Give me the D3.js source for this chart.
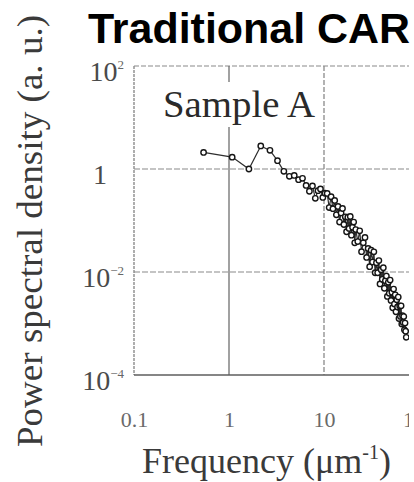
<!DOCTYPE html>
<html>
<head>
<meta charset="utf-8">
<script src="https://cdn.jsdelivr.net/npm/d3@7"></script>
<style>
  html, body { margin: 0; padding: 0; background: #fff; overflow: hidden; }
  svg { display: block; }
</style>
</head>
<body>
<svg id="chart" width="414" height="482"></svg>
<script>
// Power spectral density of the surface profile, Sample A
const freq = [
  0.54, 1.08, 1.62, 2.16, 2.70, 3.24, 3.78, 4.32, 4.86, 5.40,
  5.94, 6.48, 7.02, 7.56, 8.10, 8.64, 9.18, 9.72, 10.26, 10.80,
  11.34, 11.88, 12.42, 12.96, 13.50, 14.04, 14.58, 15.12, 15.66, 16.20,
  16.74, 17.28, 17.82, 18.36, 18.90, 19.44, 19.98, 20.52, 21.06, 21.60,
  22.68, 23.76, 24.84, 25.92, 27.00, 28.08, 29.16, 30.24, 31.32, 32.40,
  33.48, 34.56, 35.64, 36.72, 37.80, 38.88, 39.96, 41.04, 42.12, 43.20,
  44.28, 45.36, 46.44, 47.52, 48.60, 49.68, 50.76, 51.84, 52.92, 54.00,
  55.08, 56.16, 57.24, 58.32, 59.40, 60.48, 61.56, 62.64, 63.72, 64.80,
  65.88, 66.96, 68.04, 69.12, 70.20, 71.28, 72.36, 73.44
];
const psd = [
  2.1, 1.7, 1.0, 2.8, 2.3, 1.45, 0.9, 0.72, 0.75, 0.62,
  0.66, 0.48, 0.37, 0.47, 0.27, 0.38, 0.41, 0.28, 0.34, 0.335,
  0.178, 0.29, 0.17, 0.245, 0.129, 0.188, 0.093, 0.14, 0.171, 0.0836,
  0.118, 0.0605, 0.116, 0.0703, 0.12, 0.0518, 0.074, 0.093, 0.0369, 0.0667,
  0.0389, 0.063, 0.0248, 0.037, 0.0468, 0.0192, 0.0286, 0.0127, 0.0265, 0.0156,
  0.0247, 0.00966, 0.0151, 0.00964, 0.0167, 0.00588, 0.0111, 0.0072, 0.0121, 0.00484,
  0.00676, 0.00834, 0.00335, 0.0063, 0.00385, 0.00697, 0.0028, 0.00405, 0.00202, 0.00466,
  0.00238, 0.00361, 0.00169, 0.00288, 0.00209, 0.00326, 0.00125, 0.00219, 0.00137, 0.0022,
  0.00098, 0.00142, 0.00105, 0.00136, 0.000753, 0.00102, 0.00071, 0.00054
];

const xTicks = [0.1, 1, 10, 100];
const xTickLabels = ["0.1", "1", "10", "100"];
const yTicks = [1e2, 1, 1e-2, 1e-4];
const yTickBase = ["10", "1", "10", "10"];
const yTickExp = ["2", "", "\u22122", "\u22124"];

const titleText = "Traditional CAR";
const sampleText = "Sample A";
const xTitle = "Frequency (\u03bcm";
const xTitleExp = "-1";
const yTitle = "Power spectral density (a. u.)";

const serif = "'Liberation Serif', 'Times New Roman', serif";
const sans = "'Liberation Sans', Arial, sans-serif";

const svg = d3.select("#chart");

const x = d3.scaleLog().domain([0.1, 100]).range([134, 419]);
const y = d3.scaleLog().domain([1e-4, 1e2]).range([375, 66]);

const [yBottom, yTop] = y.range();
const xLeft = x.range()[0];

svg.append("defs").append("clipPath").attr("id", "plotclip")
  .append("rect").attr("x", 0).attr("y", 0).attr("width", 409).attr("height", 482);

const plot = svg.append("g").attr("clip-path", "url(#plotclip)");

// horizontal reference lines at the decades
plot.selectAll("line.hgrid")
  .data(yTicks.filter(t => t !== 1e-4))
  .join("line")
  .attr("class", "hgrid")
  .attr("x1", xLeft).attr("x2", 419)
  .attr("y1", d => y(d)).attr("y2", d => y(d))
  .attr("stroke", "#8a8a8a")
  .attr("stroke-width", 1.2)
  .attr("stroke-dasharray", d => d === 1e2 ? "5,2" : "6,2");

// vertical reference lines
plot.selectAll("line.vgrid")
  .data(xTicks.filter(t => t === 1 || t === 10))
  .join("line")
  .attr("class", "vgrid")
  .attr("x1", d => x(d)).attr("x2", d => x(d))
  .attr("y1", yTop).attr("y2", yBottom)
  .attr("stroke", d => d === 1 ? "#6f6f6f" : "#8a8a8a")
  .attr("stroke-width", 1.3)
  .attr("stroke-dasharray", d => d === 1 ? null : "5,2");

// frame: left and bottom edges
plot.append("line")
  .attr("x1", xLeft).attr("x2", xLeft).attr("y1", yTop).attr("y2", yBottom)
  .attr("stroke", "#8c8c8c").attr("stroke-width", 1.4).attr("stroke-dasharray", "3,1");
plot.append("line")
  .attr("x1", xLeft).attr("x2", 419).attr("y1", yBottom).attr("y2", yBottom)
  .attr("stroke", "#5e5e5e").attr("stroke-width", 1.4);

// sample label with a white backing that interrupts the grid
const sampleG = svg.append("g");
sampleG.append("rect")
  .attr("x", 158).attr("y", 82).attr("width", 160).attr("height", 45)
  .attr("fill", "#fff");
sampleG.append("text")
  .attr("x", 163).attr("y", 117)
  .attr("font-family", serif).attr("font-size", 38)
  .attr("fill", "#2a2a2a")
  .attr("textLength", 152).attr("lengthAdjust", "spacingAndGlyphs")
  .text(sampleText);

// spectrum
const pts = freq.map((f, i) => ({ f, v: psd[i] }));
const line = d3.line().x(d => x(d.f)).y(d => y(d.v));

plot.append("path")
  .datum(pts)
  .attr("d", line)
  .attr("fill", "none")
  .attr("stroke", "#2e2e2e")
  .attr("stroke-width", 1.2);

plot.selectAll("circle.pt")
  .data(pts)
  .join("circle")
  .attr("class", "pt")
  .attr("cx", d => x(d.f))
  .attr("cy", d => y(d.v))
  .attr("r", 2.7)
  .attr("fill", "#fff")
  .attr("stroke", "#151515")
  .attr("stroke-width", 1.4);

// x axis labels
const xAxisG = svg.append("g")
  .attr("transform", `translate(0,${yBottom})`)
  .attr("clip-path", "url(#plotclip)")
  .call(d3.axisBottom(x).tickValues(xTicks).tickSize(0)
    .tickFormat((d, i) => xTickLabels[i]));
xAxisG.select(".domain").remove();
xAxisG.selectAll(".tick text")
  .attr("y", 52).attr("dy", 0)
  .attr("font-family", serif).attr("font-size", 22)
  .attr("fill", "#6a6a6a");

// y axis labels with superscript exponents
const yAxisG = svg.append("g")
  .attr("transform", `translate(${xLeft},0)`)
  .call(d3.axisLeft(y).tickValues(yTicks).tickSize(0).tickFormat(""));
yAxisG.select(".domain").remove();
yAxisG.selectAll(".tick").each(function (d) {
  const i = yTicks.indexOf(d);
  const g = d3.select(this);
  g.selectAll("text").remove();
  const t = g.append("text")
    .attr("x", yTickExp[i] ? -10 : -27).attr("y", 14)
    .attr("text-anchor", "end")
    .attr("font-family", serif).attr("font-size", 28)
    .attr("fill", "#4a4a4a");
  t.append("tspan").text(yTickBase[i]);
  if (yTickExp[i]) {
    t.append("tspan")
      .attr("font-size", 13).attr("dy", -12).attr("fill", "#666")
      .text(yTickExp[i]);
  }
});

// title
svg.append("text")
  .attr("x", 88).attr("y", 43)
  .attr("font-family", sans).attr("font-weight", "bold")
  .attr("font-size", 42)
  .attr("fill", "#000")
  .attr("textLength", 322).attr("lengthAdjust", "spacingAndGlyphs")
  .text(titleText);

// axis titles
const xt = svg.append("text")
  .attr("x", 142).attr("y", 473)
  .attr("font-family", serif).attr("font-size", 36)
  .attr("fill", "#3a3a3a");
xt.append("tspan").text(xTitle);
xt.append("tspan").attr("font-size", 20).attr("dy", -14).text(xTitleExp);
xt.append("tspan").attr("dy", 14).text(")");

svg.append("text")
  .attr("transform", "translate(42,231) rotate(-90)")
  .attr("text-anchor", "middle")
  .attr("font-family", serif).attr("font-size", 36)
  .attr("fill", "#3a3a3a")
  .attr("textLength", 432).attr("lengthAdjust", "spacingAndGlyphs")
  .text(yTitle);
</script>
</body>
</html>
